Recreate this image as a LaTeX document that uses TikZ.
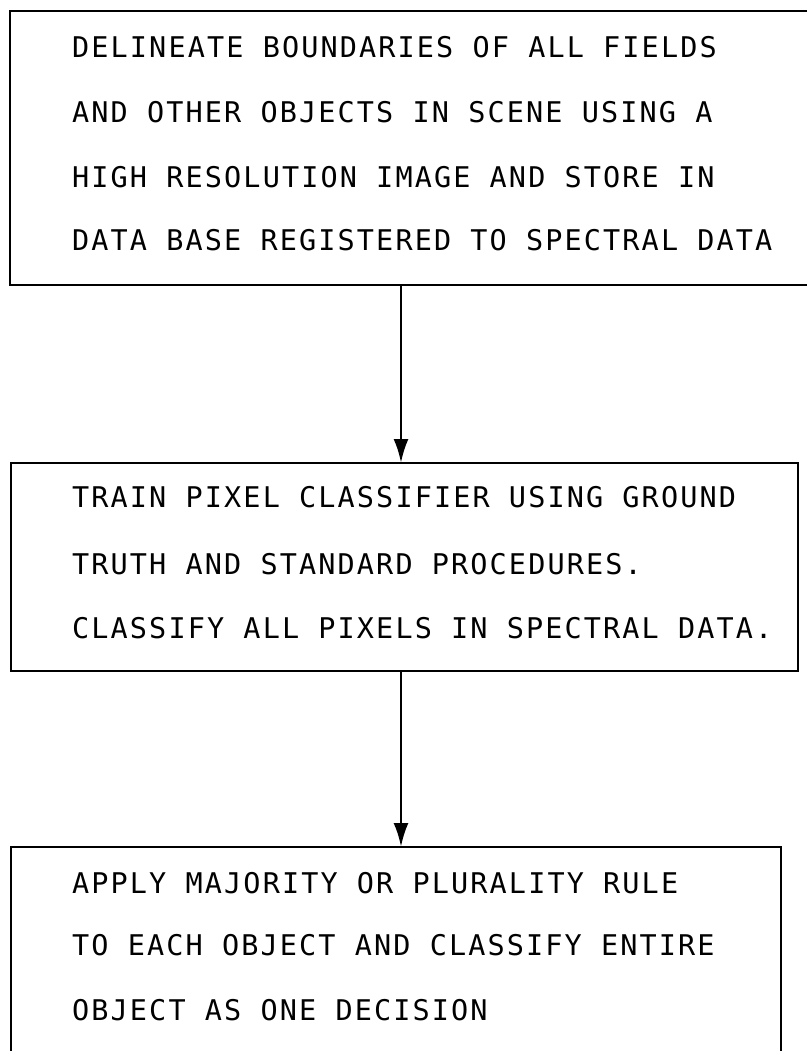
\documentclass[tikz,border=0pt]{standalone}
\usepackage{fontspec}
\newfontfamily\typew[LetterSpace=7.4]{DejaVu Sans Mono}
\usetikzlibrary{arrows.meta}
\tikzset{
  boxarea/.style={draw=none, inner sep=0pt, outer sep=0pt, anchor=north west},
  edge/.style={line width=2pt},
  txt/.style={anchor=base west, inner sep=0pt, font=\typew\fontsize{28.5}{30}\selectfont},
  flow/.style={line width=2.8pt, -{Latex[length=24pt,width=15pt]}}
}
\begin{document}
\begin{tikzpicture}[x=1pt,y=-1pt]
\useasboundingbox (0,0) rectangle (807,1051);
% box areas
\node[boxarea, minimum width=797pt, minimum height=274pt] (box1) at (10,11) {};
\node[boxarea, minimum width=787pt, minimum height=208pt] (box2) at (11,463) {};
\node[boxarea, minimum width=770pt, minimum height=214pt] (box3) at (11,847) {};
\coordinate (ax) at (401,0);
% box outlines
\draw[edge] (box1.north east) -- (box1.north west) -- (box1.south west) -- (box1.south east);
\draw[edge] (box2.north west) rectangle (box2.south east);
\draw[edge] (box3.south west) -- (box3.north west) -- (box3.north east) -- (box3.south east);
% texts
\node[txt] (b1l1) at (72,58)  {DELINEATE BOUNDARIES OF ALL FIELDS};
\node[txt] (b1l2) at (72,123) {AND OTHER OBJECTS IN SCENE USING A};
\node[txt] (b1l3) at (72,187) {HIGH RESOLUTION IMAGE AND STORE IN};
\node[txt] (b1l4) at (72,250) {DATA BASE REGISTERED TO SPECTRAL DATA};
\node[txt] (b2l1) at (72,507) {TRAIN PIXEL CLASSIFIER USING GROUND};
\node[txt] (b2l2) at (72,574) {TRUTH AND STANDARD PROCEDURES.};
\node[txt] (b2l3) at (72,638) {CLASSIFY ALL PIXELS IN SPECTRAL DATA.};
\node[txt] (b3l1) at (72,893) {APPLY MAJORITY OR PLURALITY RULE};
\node[txt] (b3l2) at (72,955) {TO EACH OBJECT AND CLASSIFY ENTIRE};
\node[txt] (b3l3) at (72,1020) {OBJECT AS ONE DECISION};
% connectors
\draw[flow] (box1.south -| ax) -- (box2.north -| ax);
\draw[flow] (box2.south -| ax) -- (box3.north -| ax);
\end{tikzpicture}
\end{document}
